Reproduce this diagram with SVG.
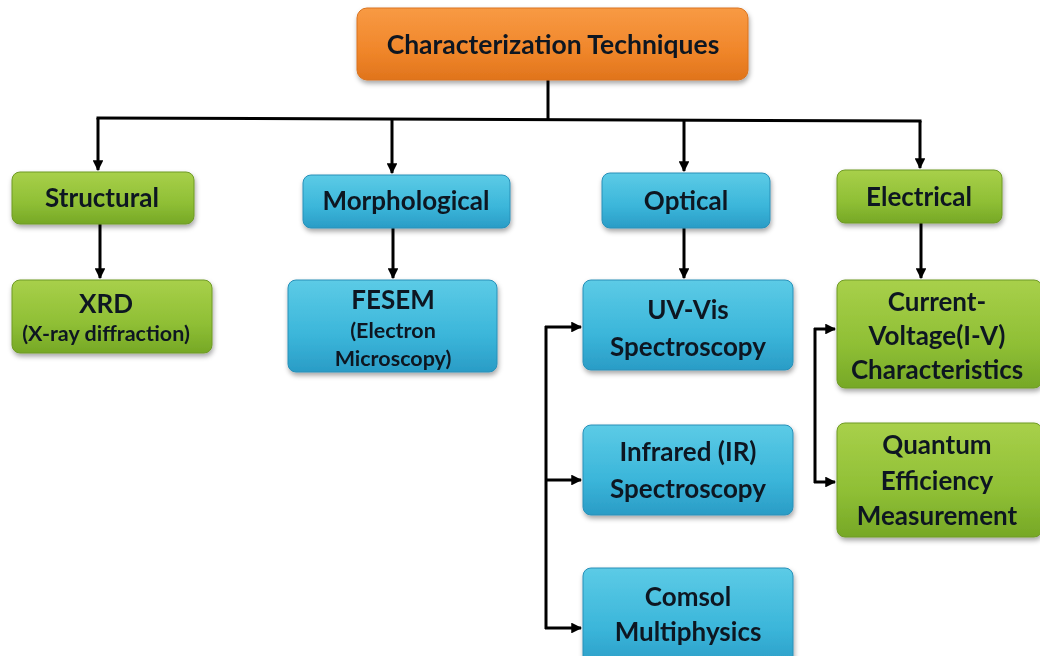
<svg xmlns="http://www.w3.org/2000/svg" width="1040" height="656" viewBox="0 0 1040 656">
  <defs>
    <linearGradient id="gOrange" x1="0" y1="0" x2="0" y2="1">
      <stop offset="0" stop-color="#f89a44"/>
      <stop offset="0.6" stop-color="#f0862a"/>
      <stop offset="1" stop-color="#e0741c"/>
    </linearGradient>
    <linearGradient id="gGreen" x1="0" y1="0" x2="0" y2="1">
      <stop offset="0" stop-color="#a8d04a"/>
      <stop offset="0.6" stop-color="#8fbf35"/>
      <stop offset="1" stop-color="#76a826"/>
    </linearGradient>
    <linearGradient id="gBlue" x1="0" y1="0" x2="0" y2="1">
      <stop offset="0" stop-color="#5ccbe6"/>
      <stop offset="0.6" stop-color="#3bb6da"/>
      <stop offset="1" stop-color="#2a9cc6"/>
    </linearGradient>
    <filter id="shadow" x="-10%" y="-10%" width="120%" height="130%">
      <feDropShadow dx="1" dy="3" stdDeviation="2.5" flood-color="#000" flood-opacity="0.35"/>
    </filter>
    <marker id="arrow" viewBox="0 0 10 10" refX="9" refY="5" markerWidth="3.6" markerHeight="3.6" orient="auto" markerUnits="strokeWidth">
      <path d="M0,0 L10,5 L0,10 Z" fill="#000"/>
    </marker>
    <style>
      .box { filter: url(#shadow); }
      .orange { fill: url(#gOrange); stroke: #d9731e; stroke-width: 1; }
      .green { fill: url(#gGreen); stroke: #6f9a25; stroke-width: 1; }
      .blue { fill: url(#gBlue); stroke: #2890b8; stroke-width: 1; }
      text { font-family: Lato, "Liberation Sans", sans-serif; font-weight: bold; fill: #101820; text-anchor: middle; }
      .lg { font-size: 26.5px; }
      .md { font-size: 26px; }
      .sm { font-size: 21.5px; }
      .conn line, .conn polyline, .conn path { stroke: #000; stroke-width: 3; fill: none; }
      .arr { marker-end: url(#arrow); }
    </style>
  </defs>

  <rect width="1040" height="656" fill="#ffffff"/>

  <!-- connectors -->
  <g id="connectors" class="conn">
    <line x1="548" y1="80" x2="548" y2="119"/>
    <line x1="96.5" y1="118" x2="921.5" y2="121"/>
    <line x1="98" y1="118" x2="98" y2="170" class="arr"/>
    <line x1="392" y1="119" x2="392" y2="173" class="arr"/>
    <line x1="684" y1="120" x2="684" y2="171" class="arr"/>
    <line x1="920" y1="121" x2="920" y2="168" class="arr"/>
    <line x1="100" y1="224" x2="100" y2="278" class="arr"/>
    <line x1="393" y1="228" x2="393" y2="278" class="arr"/>
    <line x1="684" y1="228" x2="684" y2="278" class="arr"/>
    <line x1="921" y1="223" x2="921" y2="278" class="arr"/>
    <!-- optical sub-items -->
    <line x1="546" y1="326" x2="546" y2="629"/>
    <line x1="545" y1="327" x2="581" y2="327" class="arr"/>
    <line x1="546" y1="480" x2="581" y2="480" class="arr"/>
    <line x1="545" y1="628" x2="581" y2="628" class="arr"/>
    <!-- electrical sub-items -->
    <line x1="815" y1="328" x2="815" y2="483"/>
    <line x1="814" y1="329" x2="835" y2="329" class="arr"/>
    <line x1="814" y1="482" x2="835" y2="482" class="arr"/>
  </g>

  <g id="node-root" class="box">
    <rect class="orange" x="357" y="8" width="391" height="72" rx="10"/>
    <text class="lg" x="553" y="54">Characterization Techniques</text>
  </g>

  <g id="node-structural" class="box">
    <rect class="green" x="12" y="172" width="182" height="52" rx="8"/>
    <text class="md" x="102" y="207">Structural</text>
  </g>
  <g id="node-xrd" class="box">
    <rect class="green" x="12" y="280" width="200" height="73" rx="8"/>
    <text class="md" x="106" y="313">XRD</text>
    <text class="sm" x="106" y="341">(X-ray diffraction)</text>
  </g>

  <g id="node-morphological" class="box">
    <rect class="blue" x="303" y="175" width="207" height="53" rx="8"/>
    <text class="md" x="406" y="210">Morphological</text>
  </g>
  <g id="node-fesem" class="box">
    <rect class="blue" x="288" y="280" width="209" height="92" rx="8"/>
    <text class="md" x="393" y="309">FESEM</text>
    <text class="sm" x="393" y="338">(Electron</text>
    <text class="sm" x="393" y="366">Microscopy)</text>
  </g>

  <g id="node-optical" class="box">
    <rect class="blue" x="602" y="173" width="168" height="55" rx="8"/>
    <text class="md" x="686" y="210">Optical</text>
  </g>
  <g id="node-uvvis" class="box">
    <rect class="blue" x="583" y="280" width="210" height="90" rx="8"/>
    <text class="md" x="688" y="319">UV-Vis</text>
    <text class="md" x="688" y="356">Spectroscopy</text>
  </g>
  <g id="node-ir" class="box">
    <rect class="blue" x="583" y="425" width="210" height="90" rx="8"/>
    <text class="md" x="688" y="461">Infrared (IR)</text>
    <text class="md" x="688" y="498">Spectroscopy</text>
  </g>
  <g id="node-comsol" class="box">
    <rect class="blue" x="583" y="568" width="210" height="100" rx="8"/>
    <text class="md" x="688" y="606">Comsol</text>
    <text class="md" x="688" y="641">Multiphysics</text>
  </g>

  <g id="node-electrical" class="box">
    <rect class="green" x="837" y="170" width="165" height="53" rx="8"/>
    <text class="md" x="919" y="206">Electrical</text>
  </g>
  <g id="node-iv" class="box">
    <rect class="green" x="837" y="280" width="205" height="108" rx="8"/>
    <text class="md" x="937" y="311">Current-</text>
    <text class="md" x="937" y="345">Voltage(I-V)</text>
    <text class="md" x="937" y="379">Characteristics</text>
  </g>
  <g id="node-qe" class="box">
    <rect class="green" x="837" y="423" width="205" height="114" rx="8"/>
    <text class="md" x="937" y="454">Quantum</text>
    <text class="md" x="937" y="490">Efficiency</text>
    <text class="md" x="937" y="525">Measurement</text>
  </g>
</svg>
